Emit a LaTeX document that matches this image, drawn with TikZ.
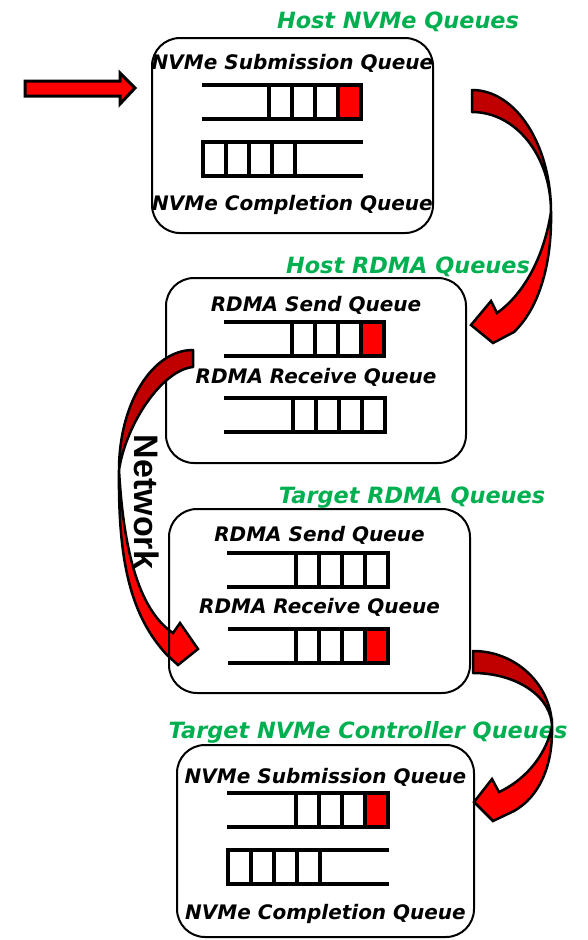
\documentclass[tikz,border=0pt]{standalone}
\usepackage{fontspec}
\usepackage{tikz}
\usetikzlibrary{positioning}

\newfontfamily\qfont{DejaVu Sans}
\newfontfamily\netfont{Liberation Sans}
\definecolor{qgreen}{HTML}{00B050}
\definecolor{qred}{HTML}{FF0000}
\definecolor{qdarkred}{HTML}{C00000}

\tikzset{
  qbox/.style={draw, line width=2pt, rounded corners=28pt, inner sep=0pt},
  qtitle/.style={font=\qfont\bfseries\itshape\fontsize{22.4}{24}\selectfont,
    text=qgreen, inner sep=0pt, text height=16.3pt, text depth=0pt},
  qlabel/.style={font=\qfont\bfseries\itshape\fontsize{20}{22}\selectfont,
    inner sep=0pt, text height=14.6pt, text depth=0pt},
  qline/.style={line width=3.4pt, line cap=rect},
  backface/.style={fill=qdarkred, draw=black, line width=2.5pt, line join=round},
  frontface/.style={fill=qred, draw=black, line width=2.5pt, line join=miter},
}

% queue filled from the right: left x, first cell x, top y, colour of the last cell
\newcommand{\tailqueue}[4]{%
  \fill[#4] (#2+69,#3) rectangle (#2+92,#3+34);
  \draw[qline] (#1,#3) -- (#2+92,#3) -- (#2+92,#3+34) -- (#1,#3+34);
  \foreach \cx in {0,23,46,69} \draw[qline] (#2+\cx,#3) -- (#2+\cx,#3+34);
}
% queue filled from the left: left x, right x, top y
\newcommand{\headqueue}[3]{%
  \draw[qline] (#2,#3) -- (#1,#3) -- (#1,#3+34) -- (#2,#3+34);
  \foreach \cx in {23,46,69,92} \draw[qline] (#1+\cx,#3) -- (#1+\cx,#3+34);
}

\begin{document}
\begin{tikzpicture}[x=1pt, y=-1pt]
  \useasboundingbox (0,0) rectangle (587,940);

  % host side
  \node[qbox, minimum width=281pt, minimum height=195pt] (hostnvme) at (292.5,135.5) {};
  \node[qbox, minimum width=300pt, minimum height=185pt] (hostrdma) at (316,370.5) {};

  % network hop (goes under the target box outline)
  \draw[backface] (193,350) .. controls (152,350) and (119,404) .. (119,470)
    .. controls (126,424) and (162,370) .. (193,367) -- cycle;
  \draw[frontface] (119,470) .. controls (118,560) and (130,615) .. (167,655)
    -- (178,665) -- (198,649) -- (180,623) -- (173,633)
    .. controls (142,612) and (124,560) .. (119,470) -- cycle;

  % target side
  \node[qbox, minimum width=301pt, minimum height=184pt] (tgtrdma) at (319.5,601) {};
  \node[qbox, minimum width=297pt, minimum height=192pt] (tgtnvme) at (325.5,841) {};

  % titles
  \node[qtitle] (hostnvmetitle) at (398,20) {Host NVMe Queues};
  \node[qtitle] (hostrdmatitle) at (408,265) {Host RDMA Queues};
  \node[qtitle] (tgtrdmatitle) at (412,495) {Target RDMA Queues};
  \node[qtitle] (tgtnvmetitle) at (368,730) {Target NVMe Controller Queues};

  % queue names
  \node[qlabel, below=17.7pt of hostnvme.north] (hostsq) {NVMe Submission Queue};
  \node[qlabel, above=23pt of hostnvme.south] (hostcq) {NVMe Completion Queue};
  \node[qlabel, below=19.7pt of hostrdma.north] (hostsend) {RDMA Send Queue};
  \node[qlabel, below=91.7pt of hostrdma.north] (hostrecv) {RDMA Receive Queue};
  \node[qlabel, below=18.7pt of tgtrdma.north] (tgtsend) {RDMA Send Queue};
  \node[qlabel, below=90.7pt of tgtrdma.north] (tgtrecv) {RDMA Receive Queue};
  \node[qlabel, below=24.7pt of tgtnvme.north] (tgtsq) {NVMe Submission Queue};
  \node[qlabel, above=18.7pt of tgtnvme.south] (tgtcq) {NVMe Completion Queue};

  \node[font=\netfont\bfseries\fontsize{34}{36}\selectfont, inner sep=0pt,
    rotate=-90] (network) at (147,502) {Network};

  % queue slots
  \tailqueue{204}{269}{85}{qred}
  \headqueue{203}{361}{142}
  \tailqueue{226}{292}{322}{qred}
  \tailqueue{226}{293}{398}{white}
  \tailqueue{229}{296}{553}{white}
  \tailqueue{230}{296}{629}{qred}
  \tailqueue{229}{296}{793}{qred}
  \headqueue{228}{387}{850}

  % incoming command
  \draw[frontface, line width=3pt] (25,81) -- (120,81) -- (120,73) -- (135,88)
    -- (120,104) -- (120,96) -- (25,96) -- cycle;

  % host NVMe -> host RDMA
  \draw[backface] (472,90) .. controls (516,90) and (551,145) .. (551,212)
    .. controls (551,156) and (516,112) .. (472,112) -- cycle;
  \draw[frontface] (551,212) .. controls (552,262) and (540,307) .. (514,332)
    -- (493,343) -- (471,325) -- (491,301) -- (497,313)
    .. controls (521,296) and (543,262) .. (551,212) -- cycle;

  % target RDMA -> target NVMe
  \draw[backface] (473,651) .. controls (517,651) and (552,686) .. (552,727)
    .. controls (552,697) and (517,673) .. (473,673) -- cycle;
  \draw[frontface] (552,727) .. controls (553,766) and (539,797) .. (514,811)
    -- (493,821) -- (474,802) -- (492,779) -- (499,792)
    .. controls (523,781) and (545,758) .. (552,727) -- cycle;
\end{tikzpicture}
\end{document}
